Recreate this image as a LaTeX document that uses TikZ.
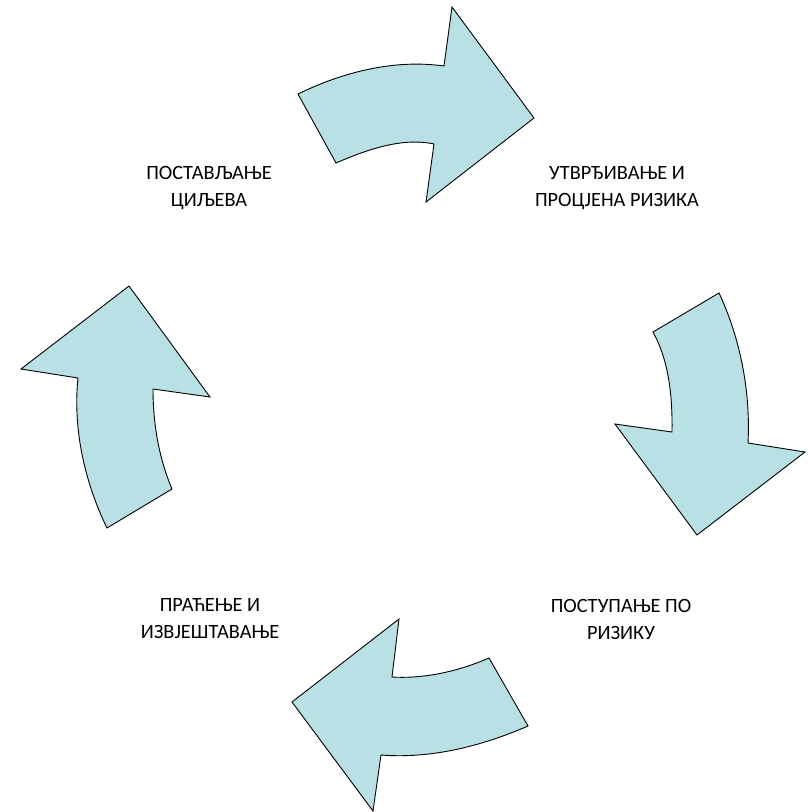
\documentclass[tikz,border=0pt]{standalone}
\usepackage{fontspec}
\setmainfont{Carlito}
\definecolor{arrowfill}{RGB}{185,224,228}
\tikzset{
  cyclearrow/.style={draw=black, line width=0.9pt, fill=arrowfill, line join=miter},
  label/.style={align=center, font=\fontsize{20.3}{27}\selectfont, inner sep=0pt}
}
\begin{document}
\begin{tikzpicture}[x=1pt,y=-1pt]
\useasboundingbox (0,0) rectangle (807,812);
% top arrow
\path[cyclearrow] (298,94) .. controls (343,72) and (394.5,59) .. (444,66)
  -- (452,7) -- (534,118) -- (426,202) -- (434,144)
  .. controls (402,137) and (366,150) .. (336,163) -- cycle;
% right arrow
\path[cyclearrow] (719,293) .. controls (740.5,339) and (750.7,392) .. (748,443)
  -- (805,452) -- (697,535) -- (615,424) -- (672,432)
  .. controls (672.5,398) and (669.5,362) .. (653,332) -- cycle;
% bottom arrow
\path[cyclearrow] (528,726) .. controls (482,746) and (431,759) .. (381,755)
  -- (373,811) -- (292,702) -- (399,619) -- (392,677)
  .. controls (425,679) and (459,671) .. (489,658) -- cycle;
% left arrow
\path[cyclearrow] (107,528) .. controls (84.6,482) and (72.7,428.7) .. (78,378)
  -- (21,369) -- (129,286) -- (210,397) -- (153,389)
  .. controls (153,423) and (158.7,457.7) .. (172,489) -- cycle;
% labels
\node[label] (goals) at (209,188) {ПОСТАВЉАЊЕ\\ЦИЉЕВА};
\node[label] (assess) at (617,188) {УТВРЂИВАЊЕ И\\ПРОЦЈЕНА РИЗИКА};
\node[label] (treat) at (621,619) {ПОСТУПАЊЕ ПО\\РИЗИКУ};
\node[label] (monitor) at (210,619) {ПРАЋЕЊЕ И\\ИЗВЈЕШТАВАЊЕ};
\end{tikzpicture}
\end{document}
